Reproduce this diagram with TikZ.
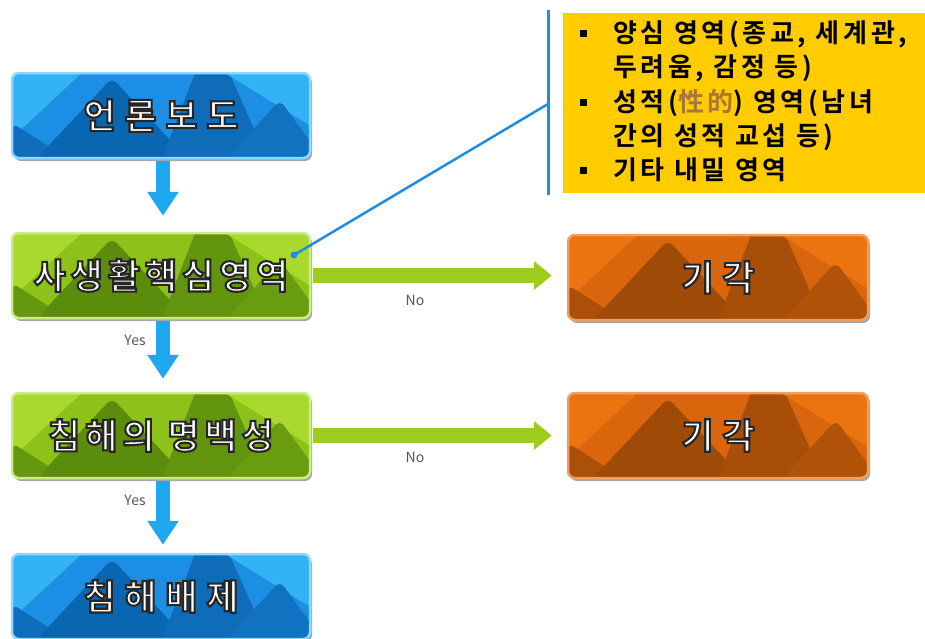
\documentclass[tikz,border=0pt]{standalone}
\usepackage{fontspec}
\setmainfont{Noto Sans CJK KR}[BoldFont={Noto Sans CJK KR Bold}]
\usetikzlibrary{arrows.meta,shadows,calc}
\definecolor{bbase}{HTML}{1C8EE3}
\definecolor{bdark}{HTML}{0B66B2}
\definecolor{blight}{HTML}{33B3F5}
\definecolor{bborder}{HTML}{8FD8FF}
\definecolor{gbase}{HTML}{8CC21A}
\definecolor{gdark}{HTML}{5C8C0C}
\definecolor{glight}{HTML}{A9D92C}
\definecolor{gborder}{HTML}{CDEB8E}
\definecolor{obase}{HTML}{D9650C}
\definecolor{odark}{HTML}{A04A08}
\definecolor{olight}{HTML}{EC7410}
\definecolor{oborder}{HTML}{EFA060}
\definecolor{arrblue}{HTML}{1FA8F0}
\definecolor{arrgreen}{HTML}{9DCB1E}
\definecolor{lineblue}{HTML}{1F8EE0}
\definecolor{notey}{HTML}{FFCC00}
\definecolor{hanja}{HTML}{A8753A}
\definecolor{labgray}{HTML}{555555}
\newcommand\outl[1]{\special{pdf:literal direct 0.15 0.15 0.15 RG}#1}
\newcommand\bfont[1]{\fontsize{35}{38}\selectfont\bfseries\addfontfeature{LetterSpace=#1,FakeBold=6}}
\tikzset{
  fbox/.style n args={4}{rectangle, rounded corners=7pt, minimum width=298pt,
    minimum height=85pt, inner sep=0pt, fill=#1, draw=#4, line width=2.5pt,
    text=white, font=\bfont{14},
    drop shadow={shadow xshift=2pt, shadow yshift=-3pt, opacity=0.35, fill=black},
    path picture={
      \coordinate (O) at (path picture bounding box.south west);
      \fill[#3] ($(O)+(0,90)$) -- ($(O)+(75,90)$) -- ($(O)+(0,20)$) -- cycle;
      \fill[#2!80!#1] (O) -- ($(O)+(0,35)$) -- ($(O)+(55,0)$) -- cycle;
      \fill[#2] ($(O)+(25,0)$) -- ($(O)+(100,80)$) -- ($(O)+(175,0)$) -- cycle;
      \fill[#2!85!#1] ($(O)+(150,0)$) -- ($(O)+(185,90)$) -- ($(O)+(215,90)$) -- ($(O)+(255,0)$) -- cycle;
      \fill[#3] ($(O)+(205,90)$) -- ($(O)+(310,90)$) -- ($(O)+(310,25)$) -- cycle;
      \fill[#2!70!#1] ($(O)+(215,0)$) -- ($(O)+(268,58)$) -- ($(O)+(310,0)$) -- cycle;
    }},
  bluebox/.style={fbox={bbase}{bdark}{blight}{bborder}},
  greenbox/.style={fbox={gbase}{gdark}{glight}{gborder}},
  orangebox/.style={fbox={obase}{odark}{olight}{oborder}, minimum width=300pt},
  wide/.style={font=\bfont{25}},
  barrow/.style={draw=arrblue, line width=14pt, -{Triangle[width=30pt,length=24pt]}},
  garrow/.style={draw=arrgreen, line width=15pt, -{Triangle[width=28pt,length=18pt]}},
  lab/.style={text=labgray, font=\fontsize{14}{16}\selectfont, inner sep=0pt},
  notetext/.style={anchor=base west, inner sep=0pt, font=\fontsize{26}{30}\selectfont\bfseries\addfontfeature{LetterSpace=14}},
  bullet/.style={fill=black, minimum size=7pt, inner sep=0pt},
}
\begin{document}
\begin{tikzpicture}[x=1pt,y=1pt]
\useasboundingbox (0,0) rectangle (925,-638);
\fill[white] (0,0) rectangle (925,-638);
\clip (0,0) rectangle (925,-638);
% callout
\node[fill=notey, minimum width=370pt, minimum height=180pt, anchor=north west, inner sep=0pt] (note) at (563,-13) {};
\coordinate (brtop) at (548,-10);
\coordinate (brbot) at (548,-195);
\coordinate (brmid) at (548,-104);
\draw[lineblue, line width=3pt] (brtop) -- (brbot);
\node[bullet] (q1) at (583,-33) {};
\node[bullet] (q2) at (583,-102) {};
\node[bullet] (q3) at (583,-170) {};
\node[notetext] (n1) at (613,-42) {양심 영역(종교, 세계관,};
\node[notetext] (n2) at (613,-76) {두려움, 감정 등)};
\node[notetext] (n3) at (613,-111) {성적({\color{hanja}性的}) 영역(남녀};
\node[notetext] (n4) at (613,-145) {간의 성적 교섭 등)};
\node[notetext] (n5) at (613,-179) {기타 내밀 영역};
% boxes
\node[bluebox, wide] (b1) at (161,-115.5) {\outl{언론보도}};
\node[greenbox] (g1) at (161,-275.5) {\outl{사생활핵심영역}};
\node[greenbox] (g2) at (161,-435.5) {\outl{침해의 명백성}};
\node[bluebox, wide] (b2) at (161,-596.5) {\outl{침해배제}};
\node[orangebox, wide] (o1) at (718,-277.5) {\outl{기각}};
\node[orangebox, wide] (o2) at (718,-435.5) {\outl{기각}};
% arrows
\draw[barrow, shorten <=1.5pt, shorten >=16pt] ([xshift=2pt]b1.south) -- ([xshift=2pt]g1.north);
\draw[barrow, shorten <=1.5pt, shorten >=13pt] ([xshift=2pt]g1.south) -- ([xshift=2pt]g2.north);
\draw[barrow, shorten <=1.5pt, shorten >=8pt] ([xshift=2pt]g2.south) -- ([xshift=2pt]b2.north);
\draw[garrow, shorten <=1.5pt, shorten >=15pt] (g1.east) -- (g1.east -| o1.west);
\draw[garrow, shorten <=1.5pt, shorten >=15pt] (g2.east) -- (g2.east -| o2.west);
% labels
\node[lab] (y1) at (135,-340) {Yes};
\node[lab] (y2) at (135,-500) {Yes};
\node[lab] (no1) at (415,-300) {No};
\node[lab] (no2) at (415,-457) {No};
% callout connector
\coordinate (dot) at (294,-255);
\draw[lineblue, line width=2.5pt] (dot) -- (brmid);
\fill[lineblue] (dot) circle (3.5);
\end{tikzpicture}
\end{document}
